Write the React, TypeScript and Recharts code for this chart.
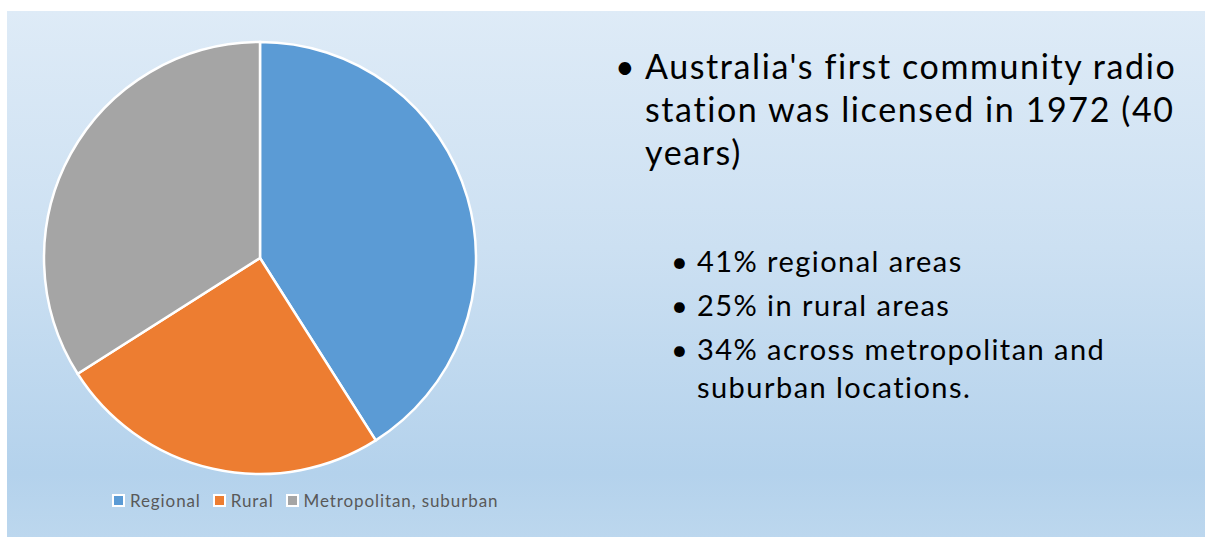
import React from "react";
import { PieChart, Pie, Cell, Legend } from "recharts";

const categories = ["Regional", "Rural", "Metropolitan, suburban"];
const shares = [41, 25, 34];
const colors = ["#5B9BD5", "#ED7D31", "#A5A5A5"];

const mainBulletLines = [
  "Australia's first community radio",
  "station was licensed in 1972 (40",
  "years)",
];
const subBullets: string[][] = [
  ["41% regional areas"],
  ["25% in rural areas"],
  ["34% across metropolitan and", "suburban locations."],
];

const data = categories.map((name, i) => ({ name, value: shares[i] }));

const FONT = "Lato, 'Open Sans', sans-serif";

function LegendContent() {
  return (
    <div
      style={{
        display: "flex",
        alignItems: "center",
        fontFamily: FONT,
        fontSize: 17,
        letterSpacing: 0.9,
        color: "#595959",
        whiteSpace: "nowrap",
      }}
    >
      {categories.map((c, i) => (
        <div
          key={c}
          style={{ display: "flex", alignItems: "center", marginRight: 12 }}
        >
          <span
            style={{
              display: "inline-block",
              width: 9,
              height: 9,
              background: colors[i],
              border: "2px solid #fff",
              marginRight: 5,
            }}
          />
          <span>{c}</span>
        </div>
      ))}
    </div>
  );
}

export default function App() {
  return (
    <div
      style={{
        position: "absolute",
        left: 0,
        top: 0,
        width: 1205,
        height: 537,
        background: "#ffffff",
        overflow: "hidden",
      }}
    >
      <div
        style={{
          position: "absolute",
          left: 7,
          top: 11,
          width: 1198,
          height: 526,
          background:
            "linear-gradient(180deg, #DEEBF7 0%, #CCE0F2 45%, #B4D2EC 88%, #BCD7EE 100%)",
        }}
      >
        <PieChart
          width={1198}
          height={526}
          margin={{ top: 0, right: 0, bottom: 0, left: 0 }}
        >
          <Pie
            data={data}
            dataKey="value"
            nameKey="name"
            cx={253}
            cy={247}
            outerRadius={216}
            startAngle={90}
            endAngle={-270}
            stroke="#ffffff"
            strokeWidth={2.5}
            isAnimationActive={false}
          >
            {data.map((d, i) => (
              <Cell key={d.name} fill={colors[i]} />
            ))}
          </Pie>
          <Legend
            content={<LegendContent />}
            wrapperStyle={{ position: "absolute", left: 105, top: 479, width: "auto" }}
          />
        </PieChart>

        <div
          style={{
            position: "absolute",
            left: 608,
            top: 33,
            fontFamily: FONT,
            fontSize: 34,
            letterSpacing: 1.6,
            lineHeight: "43px",
            color: "#000",
            whiteSpace: "nowrap",
          }}
        >
          <div style={{ position: "relative", paddingLeft: 30 }}>
            <span style={{ position: "absolute", left: 0, top: 0, letterSpacing: 0 }}>•</span>
            {mainBulletLines.map((l) => (
              <div key={l}>{l}</div>
            ))}
          </div>
        </div>

        <div
          style={{
            position: "absolute",
            left: 664,
            top: 231,
            fontFamily: FONT,
            fontSize: 29,
            letterSpacing: 1.45,
            lineHeight: "38px",
            color: "#000",
            whiteSpace: "nowrap",
          }}
        >
          {subBullets.map((lines, i) => (
            <div
              key={i}
              style={{ position: "relative", paddingLeft: 26, marginBottom: 6 }}
            >
              <span style={{ position: "absolute", left: 0, top: 0, letterSpacing: 0 }}>•</span>
              {lines.map((l) => (
                <div key={l}>{l}</div>
              ))}
            </div>
          ))}
        </div>
      </div>
    </div>
  );
}
